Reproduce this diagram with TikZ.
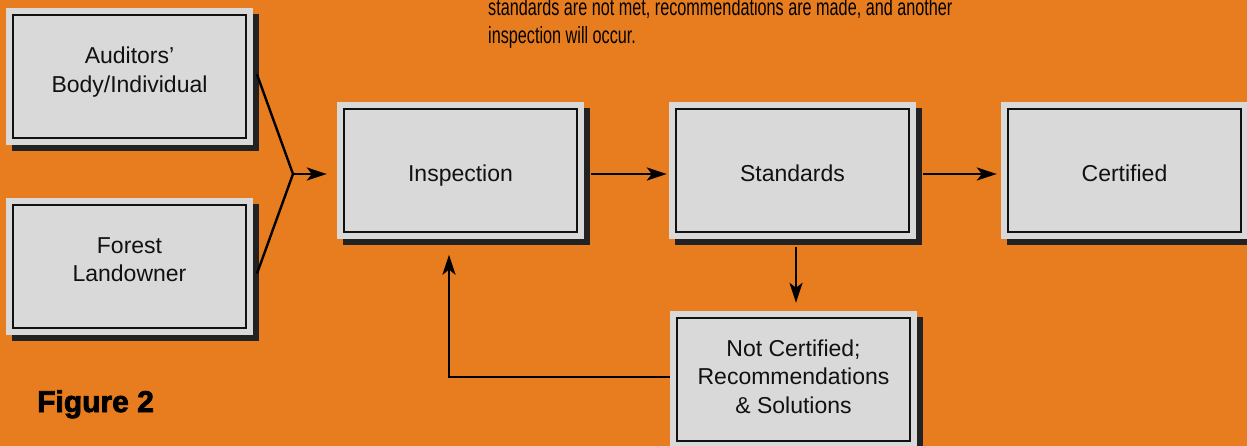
\documentclass[tikz,border=0pt]{standalone}
\usepackage{fontspec}
\setmainfont{Liberation Sans}
\newfontfamily\narrowfont[FakeStretch=0.69]{Liberation Sans}
\newfontfamily\figfont[FakeBold=2.5]{Liberation Sans Bold}
\usetikzlibrary{shadows,arrows.meta}
\definecolor{bgorange}{HTML}{E87D1F}
\definecolor{boxgray}{HTML}{D9D9D9}
\definecolor{shadowc}{HTML}{222222}
\definecolor{inkc}{HTML}{111111}
\newcommand{\toprule}[1]{\rule{0pt}{#1}}
\newcommand{\botrule}[1]{\rule[-#1]{0pt}{#1}}
\tikzset{
  flowbox/.style={rectangle, fill=boxgray, draw=none, inner sep=0pt,
    minimum width=247pt, minimum height=137pt, align=center,
    font=\fontsize{23}{28.5}\selectfont, text=inkc,
    drop shadow={shadow xshift=6pt, shadow yshift=-6pt, fill=shadowc, opacity=1},
    path picture={\draw[line width=2pt, draw=inkc]
      ([shift={(7pt,-7pt)}]path picture bounding box.north west) rectangle
      ([shift={(-7pt,7pt)}]path picture bounding box.south east);}},
  oneline/.style={text height=21.5pt, text depth=0pt},
  conn/.style={line width=2.4pt, draw=black},
  arr/.style={conn, -{Stealth[length=20pt,width=13pt,inset=5pt]}},
  toptext/.style={anchor=base west, inner sep=0pt, font=\narrowfont\fontsize{23.5}{28}\selectfont, text=black}
}
\begin{document}
\begin{tikzpicture}[x=1pt,y=-1pt]
\useasboundingbox (0,0) rectangle (1247,446);
\clip (0,0) rectangle (1247,446);
\fill[bgorange] (0,0) rectangle (1247,446);

\node[toptext] (t1) at (488,16) {standards are not met, recommendations are made, and another};
\node[toptext] (t2) at (488,44) {inspection will occur.};

\node[flowbox] (aud) at (129.5,76.5) {\toprule{20.6pt}Auditors'\\Body/Individual\botrule{18pt}};
\node[flowbox] (for) at (129.5,266.5) {\toprule{20pt}Forest\\Landowner\botrule{18pt}};
\node[flowbox, oneline] (insp) at (460.5,171) {Inspection};
\node[flowbox, oneline] (stand) at (792.5,171) {Standards};
\node[flowbox, oneline] (cert) at (1124.5,171) {Certified};
\node[flowbox] (notc) at (793.5,379.5) {\toprule{20.3pt}Not Certified;\\Recommendations\\\& Solutions\botrule{10pt}};

\node[anchor=base west, inner sep=0pt, font=\figfont\fontsize{30}{34}\selectfont, text=black] (fig) at (37,412) {Figure 2};

\coordinate (junc) at (293,174);
\draw[conn, line cap=round] ([xshift=4pt,yshift=1.5pt]aud.east) -- (junc);
\draw[conn, line cap=round] ([xshift=4pt,yshift=-6.5pt]for.east) -- (junc);
\draw[arr] (junc) -- ([xshift=-10pt,yshift=-3pt]insp.west);
\draw[arr] ([xshift=7pt,yshift=-3pt]insp.east) -- ([xshift=-2pt,yshift=-3pt]stand.west);
\draw[arr] ([xshift=7pt,yshift=-3pt]stand.east) -- ([xshift=-4pt,yshift=-3pt]cert.west);
\draw[arr] ([xshift=3.5pt,yshift=-7pt]stand.south) -- ([xshift=2.5pt,yshift=8pt]notc.north);
\coordinate (fbcorner) at (449,377);
\draw[arr] (notc.west |- fbcorner) -- (fbcorner) -- ([yshift=-15pt]insp.south -| fbcorner);
\end{tikzpicture}
\end{document}
